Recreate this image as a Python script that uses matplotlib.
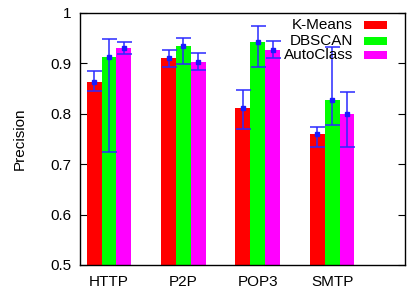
import matplotlib
matplotlib.use("Agg")
import matplotlib.pyplot as plt
from matplotlib.patches import Rectangle
import numpy as np

plt.rcParams['font.family'] = ['Liberation Sans', 'DejaVu Sans']

categories = ["HTTP", "P2P", "POP3", "SMTP"]
series = ["K-Means", "DBSCAN", "AutoClass"]
colors = ["#ff0000", "#00ff00", "#ff00ff"]

kmeans = [0.864, 0.911, 0.812, 0.759]
kmeans_lo = [0.846, 0.893, 0.770, 0.734]
kmeans_hi = [0.884, 0.927, 0.847, 0.774]

dbscan = [0.913, 0.934, 0.942, 0.827]
dbscan_lo = [0.724, 0.898, 0.892, 0.778]
dbscan_hi = [0.948, 0.950, 0.974, 0.933]

autoclass = [0.930, 0.903, 0.927, 0.799]
autoclass_lo = [0.918, 0.886, 0.911, 0.734]
autoclass_hi = [0.943, 0.921, 0.944, 0.843]

values = [kmeans, dbscan, autoclass]
lows = [kmeans_lo, dbscan_lo, autoclass_lo]
highs = [kmeans_hi, dbscan_hi, autoclass_hi]

fig = plt.figure(figsize=(4.07, 2.90), dpi=100)
ax = fig.add_axes([80/407, 1-265/290, (405-80)/407, (265-13)/290])

x = np.arange(len(categories))
w = 0.2
for i in range(3):
    xs = x + (i - 1) * w
    v = np.array(values[i]); lo = np.array(lows[i]); hi = np.array(highs[i])
    ax.bar(xs, v, width=w, color=colors[i], edgecolor='none', zorder=2)
    ax.errorbar(xs, v, yerr=[v - lo, hi - v], fmt='s', ms=3, color='#1a1aff',
                ecolor='#2a2aff', elinewidth=1.1, capsize=5.4, capthick=1.1, zorder=3)

ax.set_xlim(-0.39, 3.98)
ax.set_ylim(0.5, 1.0)
ax.set_xticks(x)
ax.set_xticklabels(categories, fontsize=11)
ax.set_yticks([0.5, 0.6, 0.7, 0.8, 0.9, 1.0])
ax.set_yticklabels(["0.5", "0.6", "0.7", "0.8", "0.9", "1"], fontsize=11)
ax.tick_params(axis='y', direction='in', length=5, left=True, right=True, pad=6)
ax.tick_params(axis='x', length=0, pad=7)
for s in ax.spines.values():
    s.set_linewidth(1.0)
    s.set_color('black')
ax.set_ylabel("Precision", fontsize=11, labelpad=17)

# legend (right-aligned text, swatch on right), in pixel-derived figure coords
for i, name in enumerate(series):
    yc = [25, 41, 55][i]
    fig.text(353/407, 1 - yc/290, name, ha='right', va='center', fontsize=11)
    fig.patches.append(Rectangle((364/407, 1 - (yc+4)/290), 23/407, 8/290,
                                 transform=fig.transFigure, facecolor=colors[i],
                                 edgecolor='none', figure=fig))

fig.savefig("out.png", dpi=100)
